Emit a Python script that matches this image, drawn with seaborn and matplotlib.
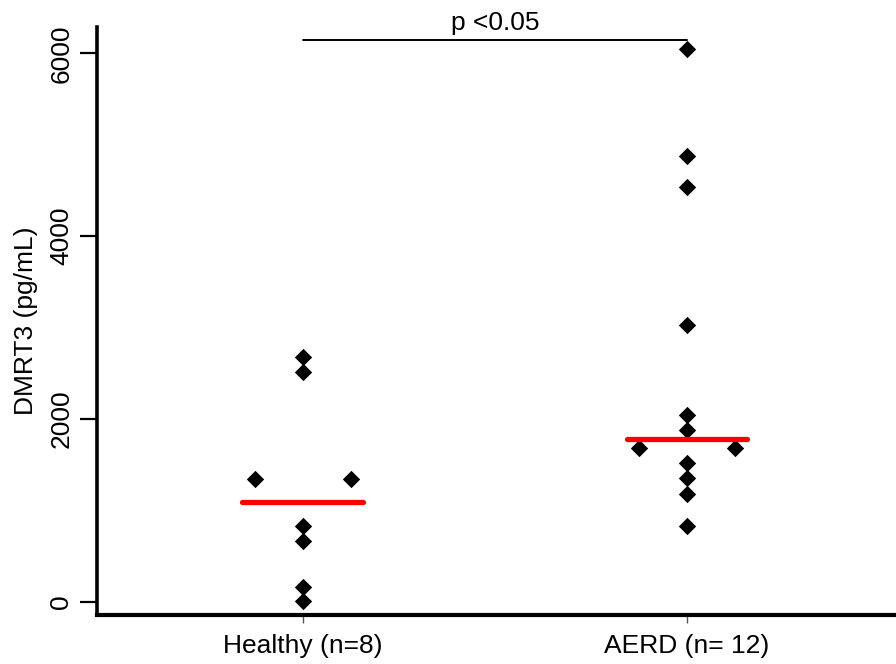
import numpy as np
import pandas as pd
import matplotlib
matplotlib.use("Agg")
import matplotlib.pyplot as plt
import seaborn as sns

# values (pg/mL)
groups = ["Healthy (n=8)", "AERD (n= 12)"]
healthy = [2680, 2515, 1345, 1345, 830, 665, 165, 5]
aerd = [6045, 4875, 4540, 3030, 2040, 1880, 1685, 1685, 1515, 1355, 1180, 835]
y_ticks = [0, 2000, 4000, 6000]
p_text = "p <0.05"


def spread_ties(values, gap=0.125):
    """put equal values side by side, others on the centre line"""
    offs = []
    seen = {}
    counts = pd.Series(values).value_counts()
    for v in values:
        n = counts[v]
        k = seen.get(v, 0)
        seen[v] = k + 1
        if n == 1:
            offs.append(0.0)
        else:
            offs.append((k - (n - 1) / 2) * 2 * gap / max(n - 1, 1))
    return offs


rows = []
for i, (name, vals) in enumerate(zip(groups, [healthy, aerd])):
    for v, o in zip(vals, spread_ties(vals)):
        rows.append({"group": name, "value": v, "x": i + o})
df = pd.DataFrame(rows)

sns.set_theme(style="ticks")
plt.rcParams["font.family"] = ["Liberation Sans", "DejaVu Sans"]
plt.rcParams["text.color"] = "black"
plt.rcParams["axes.labelcolor"] = "black"
plt.rcParams["xtick.labelcolor"] = "black"
plt.rcParams["ytick.labelcolor"] = "black"

fig = plt.figure(figsize=(8.96, 6.64), dpi=100)
ax = fig.add_axes([0.108, 0.074, 0.892, 0.885])

sns.scatterplot(data=df, x="x", y="value", marker="D", s=78, color="black",
                edgecolor="black", linewidth=0, legend=False, ax=ax, zorder=3)

# median bars
meds = df.groupby("group", sort=False)["value"].median()
for i, name in enumerate(groups):
    ax.hlines(meds[name], i - 0.157, i + 0.157, color="#ff0000", lw=3.8,
              capstyle="round", zorder=4)

# significance bracket
y_br = 6143
ax.plot([0, 1], [y_br, y_br], color="black", lw=1.4, zorder=2)
ax.text(0.5, y_br + 60, p_text, ha="center", va="bottom", fontsize=19)

ax.set_xlim(-0.536, 1.544)
ax.set_ylim(-142, 6285)
ax.set_xticks([0, 1])
ax.set_xticklabels(groups)
ax.set_yticks(y_ticks)
ax.set_xlabel("")
ax.set_ylabel("DMRT3 (pg/mL)", fontsize=19, labelpad=8)

for lab in ax.get_yticklabels():
    lab.set_rotation(90)
    lab.set_va("center")
ax.tick_params(axis="y", length=12, width=1.6, labelsize=19, pad=5, color="black")
ax.tick_params(axis="x", length=6, width=1, labelsize=19, pad=8, color="#555555")

sns.despine(ax=ax)
ax.spines["left"].set_linewidth(2.6)
ax.spines["bottom"].set_linewidth(3)
ax.spines["left"].set_color("black")
ax.spines["bottom"].set_color("black")

fig.savefig("out.png", dpi=100)
